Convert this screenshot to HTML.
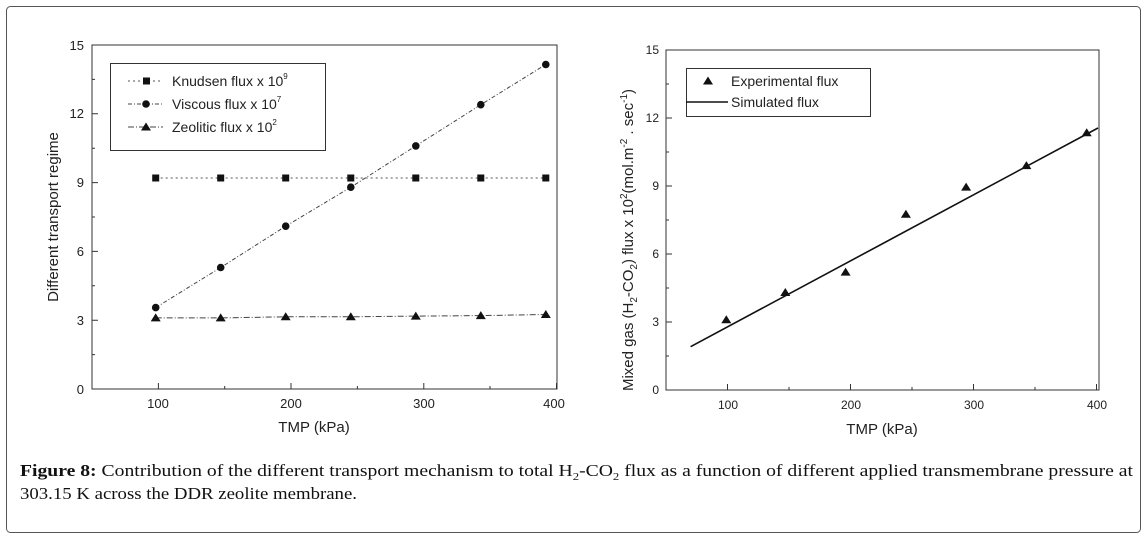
<!DOCTYPE html>
<html><head><meta charset="utf-8"><style>
body{margin:0;background:#fff}
svg{display:block}
text{font-family:"Liberation Sans",sans-serif;fill:#222}
.s{font-family:"Liberation Serif",serif;fill:#111}
</style></head><body>
<svg width="1147" height="539" viewBox="0 0 1147 539" xmlns="http://www.w3.org/2000/svg">
<rect x="6.5" y="6.5" width="1134" height="526" rx="4" fill="#fff" stroke="#555" stroke-width="1"/>

<!-- LEFT CHART -->
<g stroke="#333" stroke-width="1" fill="none">
<rect x="92" y="45" width="465" height="344"/>
<path d="M158.4 389v-6M291 389v-6M423.8 389v-6M556.5 389v-6M224.7 389v-3M357.4 389v-3M490 389v-3"/>
<path d="M92 389h6M92 320.2h6M92 251.4h6M92 182.6h6M92 113.8h6M92 45h6M92 354.6h3M92 285.8h3M92 217h3M92 148.2h3M92 79.4h3"/>
</g>
<g font-size="13" text-anchor="middle">
<text x="158" y="408">100</text><text x="291" y="408">200</text><text x="424" y="408">300</text><text x="554" y="408">400</text>
</g>
<g font-size="13" text-anchor="end">
<text x="84" y="394">0</text><text x="84" y="325">3</text><text x="84" y="256">6</text><text x="84" y="187">9</text><text x="84" y="118">12</text><text x="84" y="50">15</text>
</g>
<text x="314" y="432" font-size="15" text-anchor="middle">TMP (kPa)</text>
<text transform="translate(58,217) rotate(-90)" font-size="15" text-anchor="middle">Different transport regime</text>

<polyline points="155.7,178 545.8,178" stroke="#555" stroke-width="1" stroke-dasharray="2,3" fill="none"/>
<polyline points="155.7,307.6 220.7,267.5 285.7,226.2 350.8,187.2 415.8,145.9 480.8,104.7 545.8,64.5" stroke="#444" stroke-width="1" stroke-dasharray="4,2,1,2" fill="none"/>
<polyline points="155.7,317.9 220.7,317.9 285.7,316.8 350.8,316.8 415.8,316.1 480.8,315.6 545.8,314.5" stroke="#444" stroke-width="1" stroke-dasharray="6,2,1,2" fill="none"/>
<g fill="#111">
<rect x="152.2" y="174.5" width="7" height="7"/><rect x="217.2" y="174.5" width="7" height="7"/><rect x="282.2" y="174.5" width="7" height="7"/><rect x="347.3" y="174.5" width="7" height="7"/><rect x="412.3" y="174.5" width="7" height="7"/><rect x="477.3" y="174.5" width="7" height="7"/><rect x="542.3" y="174.5" width="7" height="7"/>
<circle cx="155.7" cy="307.6" r="3.8"/><circle cx="220.7" cy="267.5" r="3.8"/><circle cx="285.7" cy="226.2" r="3.8"/><circle cx="350.8" cy="187.2" r="3.8"/><circle cx="415.8" cy="145.9" r="3.8"/><circle cx="480.8" cy="104.7" r="3.8"/><circle cx="545.8" cy="64.5" r="3.8"/>
<path d="M155.7 313.4l5 8h-10z M220.7 313.4l5 8h-10z M285.7 312.3l5 8h-10z M350.8 312.3l5 8h-10z M415.8 311.6l5 8h-10z M480.8 311.1l5 8h-10z M545.8 310l5 8h-10z"/>
</g>
<rect x="110.5" y="63.5" width="215" height="87" fill="#fff" stroke="#333"/>
<line x1="128" y1="81" x2="163" y2="81" stroke="#555" stroke-dasharray="2,3"/><rect x="143" y="77.5" width="7" height="7" fill="#111"/>
<line x1="128" y1="104" x2="163" y2="104" stroke="#444" stroke-dasharray="4,2,1,2"/><circle cx="146" cy="104" r="3.8" fill="#111"/>
<line x1="128" y1="127" x2="163" y2="127" stroke="#444" stroke-dasharray="6,2,1,2"/><path d="M146 122.5l5 8h-10z" fill="#111"/>
<g font-size="14">
<text x="172" y="86">Knudsen flux x 10<tspan font-size="8" dy="-7">9</tspan></text>
<text x="172" y="109">Viscous flux x 10<tspan font-size="8" dy="-7">7</tspan></text>
<text x="172" y="132">Zeolitic flux x 10<tspan font-size="8" dy="-7">2</tspan></text>
</g>

<!-- RIGHT CHART -->
<g stroke="#333" stroke-width="1" fill="none">
<rect x="666" y="50" width="433" height="340"/>
<path d="M727.5 390v-6M850.5 390v-6M973.5 390v-6M1096.5 390v-6M789 390v-3M912 390v-3M1035 390v-3"/>
<path d="M666 390h6M666 322h6M666 254h6M666 186h6M666 118h6M666 50h6M666 356h3M666 288h3M666 220h3M666 152h3M666 84h3"/>
</g>
<g font-size="12" text-anchor="middle">
<text x="728" y="409">100</text><text x="851" y="409">200</text><text x="974" y="409">300</text><text x="1097" y="409">400</text>
</g>
<g font-size="12" text-anchor="end">
<text x="659" y="394">0</text><text x="659" y="326">3</text><text x="659" y="258">6</text><text x="659" y="190">9</text><text x="659" y="122">12</text><text x="659" y="54">15</text>
</g>
<text x="882" y="434" font-size="15" text-anchor="middle">TMP (kPa)</text>
<text transform="translate(633,240) rotate(-90)" font-size="15" text-anchor="middle">Mixed gas (H<tspan font-size="10" dy="4">2</tspan><tspan dy="-4">-CO</tspan><tspan font-size="10" dy="4">2</tspan><tspan dy="-4">) flux x 10</tspan><tspan font-size="10" dy="-6">2</tspan><tspan dy="6">(mol.m</tspan><tspan font-size="10" dy="-6">-2</tspan><tspan dy="6"> . sec</tspan><tspan font-size="10" dy="-6">-1</tspan><tspan dy="6">)</tspan></text>
<line x1="690.6" y1="346.7" x2="1098" y2="128" stroke="#111" stroke-width="1.6"/>
<g fill="#111">
<path d="M726.3 315.2l5 8h-10z M785.3 288l5 8h-10z M845.6 267.6l5 8h-10z M905.9 209.8l5 8h-10z M966.1 182.6l5 8h-10z M1026.4 161.1l5 8h-10z M1086.7 128.2l5 8h-10z"/>
</g>
<rect x="686.5" y="68.5" width="184" height="48" fill="#fff" stroke="#333"/>
<path d="M708 76.5l5 8h-10z" fill="#111"/>
<line x1="686" y1="102" x2="728" y2="102" stroke="#111" stroke-width="1.6"/>
<g font-size="14"><text x="731" y="86">Experimental flux</text><text x="731" y="107">Simulated flux</text></g>

<!-- CAPTION -->
<text class="s" x="20" y="476" font-size="17" textLength="1113" lengthAdjust="spacingAndGlyphs"><tspan font-weight="bold">Figure 8:</tspan> Contribution of the different transport mechanism to total H<tspan font-size="11" dy="4">2</tspan><tspan dy="-4">-CO</tspan><tspan font-size="11" dy="4">2</tspan><tspan dy="-4"> flux as a function of different applied transmembrane pressure at</tspan></text>
<text class="s" x="20" y="499" font-size="17" textLength="337" lengthAdjust="spacingAndGlyphs">303.15 K across the DDR zeolite membrane.</text>
</svg>
</body></html>
